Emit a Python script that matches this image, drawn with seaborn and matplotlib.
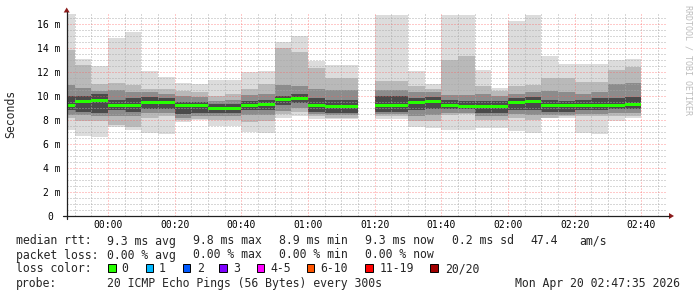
import numpy as np
import matplotlib
matplotlib.use("Agg")
import matplotlib.pyplot as plt
import seaborn as sns
from matplotlib.lines import Line2D
from matplotlib.patches import Rectangle, Polygon

# ---------------- data (ms) ----------------
times = ["23:50", "23:55", "00:00", "00:05", "00:10", "00:15", "00:20", "00:25", "00:30",
         "00:35", "00:40", "00:45", "00:50", "00:55", "01:00", "01:05", "01:10", "01:15",
         "01:25", "01:30", "01:35", "01:40", "01:45", "01:50", "01:55", "02:00", "02:05",
         "02:10", "02:15", "02:20", "02:25", "02:30", "02:35", "02:40"]
rtt_max = [16.8, 13.1, 12.5, 14.8, 15.3, 12.1, 11.6, 11.1, 11.0, 11.3, 11.3, 12.0, 12.05, 14.5,
           15.0, 12.95, 12.6, 12.6, 16.75, 16.75, 12.1, 11.0, 16.75, 16.75, 12.15, 10.7, 16.25,
           16.75, 13.3, 12.65, 12.65, 12.65, 13.0, 13.05]
hi2 = [13.8, 12.6, 11.0, 11.1, 10.9, 10.6, 10.6, 10.4, 10.3, 10.0, 10.2, 10.6, 11.0, 14.0, 13.7,
       12.3, 11.5, 11.5, 11.25, 11.25, 10.8, 10.6, 13.0, 13.3, 10.8, 10.4, 10.8, 10.9, 11.5, 11.5,
       11.2, 11.2, 12.2, 12.4]
hi3 = [10.9, 10.7, 10.4, 10.5, 10.3, 10.3, 10.2, 10.0, 9.9, 9.6, 9.7, 10.1, 10.2, 10.9, 10.8,
       10.6, 10.5, 10.5, 10.5, 10.5, 10.3, 10.3, 10.1, 10.1, 10.2, 10.0, 10.2, 10.3, 10.4, 10.3,
       10.2, 10.3, 11.0, 11.1]
hi4 = [10.0, 10.0, 10.2, 9.7, 9.8, 9.9, 9.8, 9.5, 9.5, 9.3, 9.3, 9.6, 9.7, 10.0, 10.2, 9.8, 9.7,
       9.7, 10.0, 10.0, 9.8, 9.9, 9.7, 9.6, 9.6, 9.6, 9.8, 9.9, 9.7, 9.6, 9.7, 9.8, 9.8, 9.9]
median = [9.17, 9.58, 9.6, 9.25, 9.2, 9.45, 9.45, 9.22, 9.17, 8.95, 8.95, 9.25, 9.33, 9.72, 9.8,
          9.17, 9.1, 9.1, 9.17, 9.17, 9.45, 9.53, 9.17, 9.1, 9.1, 9.1, 9.45, 9.53, 9.25, 9.2,
          9.25, 9.25, 9.22, 9.3]
lo4 = [8.8, 8.7, 8.6, 8.8, 8.7, 8.9, 8.9, 8.5, 8.6, 8.6, 8.6, 8.8, 8.8, 9.25, 9.4, 8.7, 8.6, 8.6,
       8.7, 8.7, 8.8, 8.9, 8.9, 8.9, 8.6, 8.6, 8.8, 8.8, 8.7, 8.7, 8.8, 8.8, 8.9, 8.9]
lo3 = [8.4, 8.4, 8.3, 8.3, 8.3, 8.6, 8.6, 8.2, 8.3, 8.3, 8.3, 8.4, 8.4, 8.75, 9.0, 8.5, 8.4, 8.4,
       8.5, 8.5, 8.3, 8.4, 8.6, 8.6, 8.3, 8.3, 8.5, 8.4, 8.4, 8.45, 8.5, 8.5, 8.6, 8.6]
lo2 = [8.2, 7.9, 7.9, 7.6, 7.4, 8.2, 8.3, 8.0, 8.1, 8.0, 8.0, 7.8, 7.9, 8.5, 8.7, 8.3, 8.2, 8.2,
       8.35, 8.35, 7.9, 7.9, 8.4, 8.5, 8.0, 8.0, 8.2, 8.0, 8.2, 8.3, 8.3, 8.3, 8.3, 8.3]
rtt_min = [7.2, 6.67, 6.6, 7.4, 7.2, 6.9, 6.8, 7.8, 8.0, 7.5, 7.5, 7.0, 6.95, 8.15, 8.3, 8.05,
           8.05, 8.05, 8.1, 8.1, 7.45, 7.35, 7.2, 7.2, 7.3, 7.3, 7.1, 6.95, 8.15, 8.2, 6.95, 6.8,
           7.9, 8.2]
loss = [0] * len(times)

x_tick_labels = ["00:00", "00:20", "00:40", "01:00", "01:20", "01:40", "02:00", "02:20", "02:40"]
y_ticks = [0, 2, 4, 6, 8, 10, 12, 14, 16]
y_tick_labels = ["0", "2 m", "4 m", "6 m", "8 m", "10 m", "12 m", "14 m", "16 m"]
window = ("23:47:35", "02:47:35")

loss_labels = ["0", "1", "2", "3", "4-5", "6-10", "11-19", "20/20"]
loss_colors = ["#26ff00", "#00b8ff", "#0059ff", "#7e00ff", "#ff00ff", "#ff5500", "#ff0000", "#a10000"]

# ---------------- helpers ----------------
def to_min(t):
    parts = [int(p) for p in t.split(":")]
    v = parts[0] * 60 + parts[1] + (parts[2] / 60 if len(parts) > 2 else 0)
    return v - 1440 if parts[0] >= 12 else v

W, H = 697, 297
def fx(x):
    return x / W
def fy(y):
    return 1 - y / H

sns.set_style("white")
plt.rcParams['font.family'] = ['DejaVu Sans Mono', 'DejaVu Sans']

fig = plt.figure(figsize=(W / 100, H / 100), dpi=100)
fig.patch.set_facecolor("white")

PX_PER_MS = 12.0
ax_left, ax_right, ax_bottom, ax_top = 66.7, 666.7, 216.0, 13.0
ax = fig.add_axes([fx(ax_left), fy(ax_bottom), (ax_right - ax_left) / W, (ax_bottom - ax_top) / H])
ax.set_facecolor("white")

x0, x1 = to_min(window[0]), to_min(window[1])
ax.set_xlim(x0, x1)
ax.set_ylim(0, (ax_bottom - ax_top) / PX_PER_MS)

ends = np.array([to_min(t) for t in times])
starts = ends - 5

bands = [(rtt_min, rtt_max, "#dcdcdc"), (lo2, hi2, "#b9b9b9"),
         (lo3, hi3, "#8c8c8c"), (lo4, hi4, "#4a4a4a")]
for lo, hi, col in bands:
    lo = np.array(lo); hi = np.array(hi)
    ax.bar(starts, hi - lo, bottom=lo, width=5, align="edge", color=col,
           linewidth=0, antialiased=False, zorder=1)

med = np.array(median)
thick = 0.25
ax.bar(starts, thick, bottom=med - thick / 2, width=5, align="edge",
       color=[loss_colors[l] for l in loss], linewidth=0, antialiased=False, zorder=4)

# ---------------- grid ----------------
major_x = [to_min(t) for t in x_tick_labels]
ax.set_xticks(major_x)
ax.set_xticklabels(x_tick_labels)
ax.set_xticks(np.arange(np.ceil(x0 / 5) * 5, x1, 5), minor=True)
ax.set_yticks(y_ticks)
ax.set_yticklabels(y_tick_labels)
ax.set_yticks(np.arange(0.5, ax.get_ylim()[1], 0.5), minor=True)
ax.set_axisbelow(False)
ax.grid(which="minor", color="#a8a8a8", linestyle=(0, (1, 2)), linewidth=0.72, alpha=0.9)
ax.grid(which="major", color="#ff5a5a", linestyle=(0, (1, 2)), linewidth=0.72, alpha=0.65)
ax.tick_params(which="both", length=0)
ax.tick_params(axis="x", pad=2.6, labelsize=7, colors="#000000")
ax.tick_params(axis="y", pad=4.4, labelsize=7, colors="#000000")
for lab in ax.get_yticklabels():
    if lab.get_text() == "0":
        lab.set_x(-0.013)
for s in ax.spines.values():
    s.set_visible(False)

# ---------------- axes lines and arrows ----------------
axc = "#202020"
fig.add_artist(Line2D([fx(ax_left), fx(ax_left)], [fy(219), fy(12)], color=axc, lw=0.9))
fig.add_artist(Line2D([fx(63), fx(669)], [fy(ax_bottom), fy(ax_bottom)], color=axc, lw=0.9))
arrow_c = "#8b1a1a"
fig.add_artist(Polygon([(fx(63.7), fy(12.5)), (fx(69.7), fy(12.5)), (fx(66.7), fy(7.5))],
                       closed=True, color=arrow_c, lw=0))
fig.add_artist(Polygon([(fx(669), fy(213)), (fx(669), fy(219)), (fx(674), fy(216))],
                       closed=True, color=arrow_c, lw=0))

# ---------------- labels ----------------
fig.text(fx(11), fy(114), "Seconds", rotation=90, ha="center", va="center", fontsize=8.3)
fig.text(fx(688), fy(5), "RRDTOOL / TOBI OETIKER", rotation=270, ha="center", va="top",
         fontsize=6, color="#bdbdbd")

fs = 8.3
row1 = [("median rtt:", 16), ("9.3 ms avg", 107.3), ("9.8 ms max", 193.3), ("8.9 ms min", 279.3),
        ("9.3 ms now", 365), ("0.2 ms sd", 451.7), ("47.4", 530), ("am/s", 579.3)]
row2 = [("packet loss:", 16), ("0.00 % avg", 107.3), ("0.00 % max", 193.3),
        ("0.00 % min", 279.3), ("0.00 % now", 365)]
for txt, x in row1:
    fig.text(fx(x), fy(244.5), txt, ha="left", va="baseline", fontsize=fs)
for txt, x in row2:
    fig.text(fx(x), fy(258.5), txt, ha="left", va="baseline", fontsize=fs)

fig.text(fx(16), fy(272.5), "loss color:", ha="left", va="baseline", fontsize=fs)
box_x = [108.3, 145.7, 182.7, 219.3, 256.7, 306.7, 365.0, 430.0]
lab_x = [121.7, 159.0, 196.7, 233.3, 270.0, 320.7, 379.3, 445.0]
for lbl, col, bx, lx in zip(loss_labels, loss_colors, box_x, lab_x):
    fig.add_artist(Rectangle((fx(bx), fy(272.3)), 7.5 / W, 8 / H, facecolor=col,
                             edgecolor="black", lw=0.7))
    fig.text(fx(lx), fy(272.5), lbl, ha="left", va="baseline", fontsize=fs)

fig.text(fx(16), fy(287), "probe:", ha="left", va="baseline", fontsize=fs)
fig.text(fx(107.3), fy(287), "20 ICMP Echo Pings (56 Bytes) every 300s", ha="left",
         va="baseline", fontsize=fs)
fig.text(fx(680), fy(287), "Mon Apr 20 02:47:35 2026", ha="right", va="baseline", fontsize=fs)

fig.savefig("out.png", dpi=100, facecolor="white")
